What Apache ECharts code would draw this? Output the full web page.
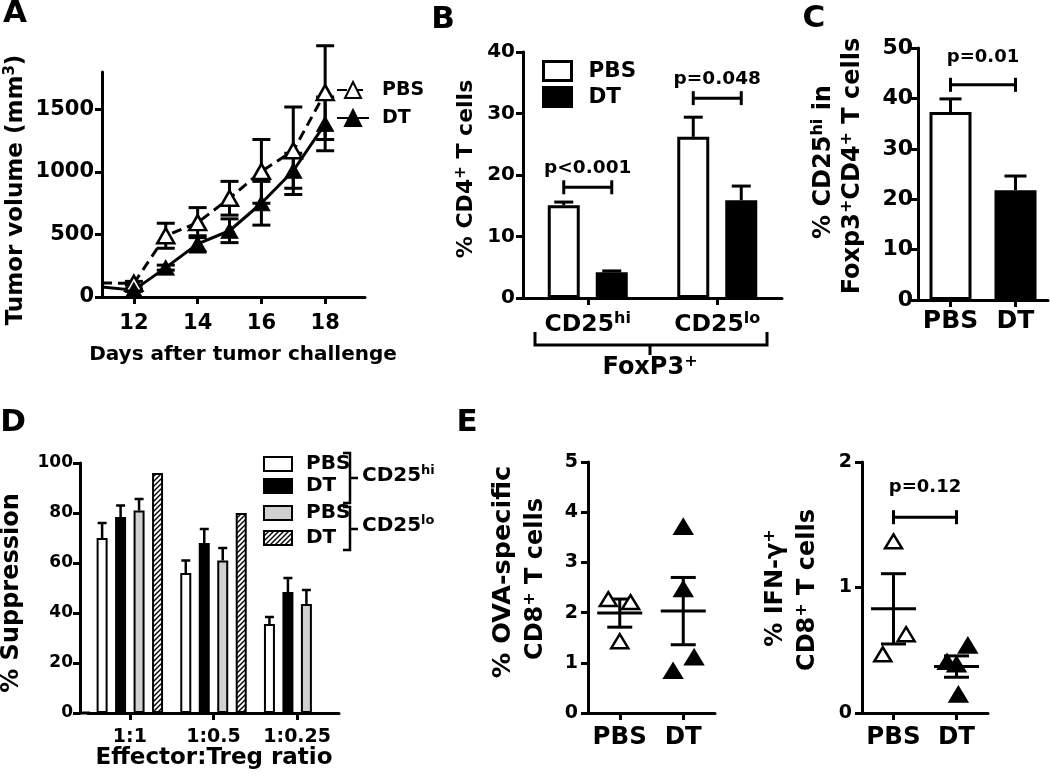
<!DOCTYPE html>
<html><head><meta charset="utf-8">
<script src="https://cdn.jsdelivr.net/npm/echarts@6/dist/echarts.min.js"></script>
<style>html,body{margin:0;padding:0;background:#fff}#c{width:1050px;height:781px}</style>
</head><body><div id="c"></div>
<script>
// ================= DATA =================
// Panel A – tumor growth
const A_DAYS      = [11, 12, 13, 14, 15, 16, 17, 18];
const A_PBS_MEAN  = [112, 110, 490, 595, 790, 1005, 1170, 1635];
const A_PBS_SEM   = [null, 15, 100, 120, 135, 255, 350, 375];
const A_DT_MEAN   = [80, 55, 235, 425, 530, 750, 1010, 1385];
const A_DT_SEM    = [null, 10, 20, 65, 95, 175, 140, 215];
const A_X_TICKS   = [12, 14, 16, 18];
const A_Y_TICKS   = [0, 500, 1000, 1500];

// Panel B – % CD4+ T cells
const B_CATS      = ['CD25hi', 'CD25lo'];
const B_PBS       = [15.1, 26.2];
const B_PBS_SEM   = [0.5, 3.2];
const B_DT        = [4.2, 15.9];
const B_DT_SEM    = [0.2, 2.3];
const B_P_LABELS  = ['p<0.001', 'p=0.048'];
const B_P_Y       = [18.0, 32.5];

// Panel C – % CD25hi in Foxp3+CD4+ T cells
const C_CATS      = ['PBS', 'DT'];
const C_VALS      = [37.3, 21.8];
const C_SEM       = [2.6, 2.8];
const C_P_LABEL   = ['p=0.01'];
const C_P_Y       = [42.7];

// Panel D – % suppression
const D_CATS        = ['1:1', '1:0.5', '1:0.25'];
const D_HI_PBS      = [70, 56, 35.6];
const D_HI_PBS_SEM  = [6, 5, 2.8];
const D_HI_DT       = [78.4, 68, 48.4];
const D_HI_DT_SEM   = [4.6, 5.6, 5.6];
const D_LO_PBS      = [81, 61, 43.6];
const D_LO_PBS_SEM  = [4.6, 5, 5.6];
const D_LO_DT       = [96, 80, null];

// Panel E – individual mice
const E_CATS        = ['PBS', 'DT'];
const E1_PBS        = [2.25, 2.19, 1.41];
const E1_PBS_JIT    = [-0.18, 0.17, 0];
const E1_DT         = [3.69, 2.45, 1.09, 0.82];
const E1_DT_JIT     = [0, 0, 0.17, -0.16];
const E1_MEAN       = [1.99, 2.03];
const E1_SEM        = [0.28, 0.67];
const E2_PBS        = [1.36, 0.62, 0.46];
const E2_PBS_JIT    = [0, 0.2, -0.17];
const E2_DT         = [0.53, 0.40, 0.38, 0.14];
const E2_DT_JIT     = [0.18, -0.15, 0, 0.03];
const E2_MEAN       = [0.83, 0.37];
const E2_SEM        = [0.28, 0.085];
const E2_P_LABEL    = ['p=0.12'];
const E2_P_Y        = [1.56];

// ================= STYLE =================
const FF = '"DejaVu Sans", sans-serif';
const BK = '#000';
const GRAY = '#d0d0d0';

const hatch = document.createElement('canvas');
hatch.width = 5; hatch.height = 5;
(function () {
  const c = hatch.getContext('2d');
  c.fillStyle = '#fff'; c.fillRect(0, 0, 5, 5);
  c.strokeStyle = '#000'; c.lineWidth = 1.4;
  c.beginPath();
  c.moveTo(0, 5); c.lineTo(5, 0);
  c.moveTo(-1, 1); c.lineTo(1, -1);
  c.moveTo(4, 6); c.lineTo(6, 4);
  c.stroke();
})();
const HATCH = { image: hatch, repeat: 'repeat' };

function axis(gi, fontSize, margin, extra) {
  const base = {
    gridIndex: gi,
    axisLine: { show: true, onZero: false, lineStyle: { color: BK, width: 3 } },
    axisTick: { show: true, length: 7, lineStyle: { color: BK, width: 3 } },
    axisLabel: { color: BK, fontFamily: FF, fontWeight: 'bold', fontSize: fontSize, margin: margin,
      hideOverlap: false, formatter: v => String(v) },
    splitLine: { show: false }
  };
  extra = extra || {};
  for (const k in extra) {
    if (base[k] && typeof base[k] === 'object' && !Array.isArray(extra[k])) base[k] = Object.assign({}, base[k], extra[k]);
    else base[k] = extra[k];
  }
  return base;
}
function catAxis(gi, fontSize, margin, data, labelExtra) {
  return axis(gi, fontSize, margin, {
    type: 'category', data: data,
    axisTick: { alignWithLabel: true, interval: 0 },
    axisLabel: Object.assign({ interval: 0 }, labelExtra || {})
  });
}

function rich(size, sup) {
  return {
    m: { fontSize: size, fontWeight: 'bold', fontFamily: FF, fill: BK, lineHeight: Math.round(size * 1.15) },
    s: { fontSize: sup, fontWeight: 'bold', fontFamily: FF, fill: BK, verticalAlign: 'top', lineHeight: sup }
  };
}
function gtext(x, y, text, size, rot, align) {
  return {
    type: 'text', x: x, y: y, rotation: rot ? Math.PI / 2 : 0, z: 10,
    style: { text: text, align: align || 'center', verticalAlign: 'middle',
      font: 'bold ' + size + 'px ' + FF, fill: BK, rich: rich(size, Math.round(size * 0.66)) }
  };
}
function axisRich(size, sup) {
  return {
    m: { fontSize: size, fontWeight: 'bold', fontFamily: FF, color: BK, lineHeight: Math.round(size * 1.15) },
    s: { fontSize: sup, fontWeight: 'bold', fontFamily: FF, color: BK, verticalAlign: 'top', lineHeight: sup }
  };
}
const ST = (w) => ({ stroke: BK, lineWidth: w || 3 });
function L(x1, y1, x2, y2, w) { return { type: 'line', shape: { x1, y1, x2, y2 }, style: ST(w) }; }

// ---- custom renderers ----
function errBoth(capHalf) {
  return function (p, api) {
    const x = api.value(0), m = api.value(1), s = api.value(2);
    const hi = api.coord([x, m + s]), lo = api.coord([x, m - s]);
    return { type: 'group', children: [
      L(hi[0], hi[1], lo[0], lo[1]),
      L(hi[0] - capHalf, hi[1], hi[0] + capHalf, hi[1]),
      L(lo[0] - capHalf, lo[1], lo[0] + capHalf, lo[1])
    ] };
  };
}
function barErr(barWidth, barGap, count, capHalf, lw) {
  return function (p, api) {
    const cat = api.value(0), v = api.value(1), s = api.value(2), slot = api.value(3);
    const lay = api.barLayout({ barWidth: barWidth, barGap: barGap, count: count });
    const off = lay[slot].offsetCenter;
    const top = api.coord([cat, v + s]), base = api.coord([cat, v]);
    const x = top[0] + off;
    return { type: 'group', children: [
      L(x, base[1], x, top[1], lw),
      L(x - capHalf, top[1], x + capHalf, top[1], lw)
    ] };
  };
}
function bracketGroup(x1, x2, y, label, gap, size) {
  return { type: 'group', children: [
    L(x1, y, x2, y),
    L(x1, y - 7, x1, y + 7),
    L(x2, y - 7, x2, y + 7),
    { type: 'text', style: { text: label, x: (x1 + x2) / 2, y: y - gap, align: 'center', verticalAlign: 'middle',
      font: 'bold ' + size + 'px ' + FF, fill: BK } }
  ] };
}
function bracketInCat(labels, barWidth, barGap, count, gap, size) {
  return function (p, api) {
    const cat = api.value(0), y = api.value(1);
    const lay = api.barLayout({ barWidth: barWidth, barGap: barGap, count: count });
    const c = api.coord([cat, y]);
    return bracketGroup(c[0] + lay[0].offsetCenter, c[0] + lay[1].offsetCenter, c[1], labels[p.dataIndex], gap, size);
  };
}
function bracketBetween(labels, gap, size) {
  return function (p, api) {
    const a = api.coord([api.value(0), api.value(2)]);
    const b = api.coord([api.value(1), api.value(2)]);
    return bracketGroup(a[0], b[0], a[1], labels[p.dataIndex], gap, size);
  };
}
function triPoint(p, api) {
  const c = api.coord([api.value(0), api.value(1)]);
  const bw = api.size([1, 0])[0];
  const x = c[0] + api.value(2) * bw, y = c[1];
  const filled = api.value(3) === 1;
  return { type: 'polygon', shape: { points: [[x, y - 8], [x - 8.5, y + 6], [x + 8.5, y + 6]] },
    style: { fill: filled ? BK : '#fff', stroke: BK, lineWidth: 2.5 } };
}
function meanSem(p, api) {
  const cat = api.value(0), m = api.value(1), s = api.value(2);
  const cm = api.coord([cat, m]), ch = api.coord([cat, m + s]), cl = api.coord([cat, m - s]);
  return { type: 'group', children: [
    L(cm[0] - 22.5, cm[1], cm[0] + 22.5, cm[1]),
    L(ch[0], ch[1], cl[0], cl[1]),
    L(ch[0] - 12.5, ch[1], ch[0] + 12.5, ch[1]),
    L(cl[0] - 12.5, cl[1], cl[0] + 12.5, cl[1])
  ] };
}

// ---- derived data for custom series ----
const aErrPBS = A_DAYS.map((d, i) => [d, A_PBS_MEAN[i], A_PBS_SEM[i]]).filter(r => r[2] != null);
const aErrDT  = A_DAYS.map((d, i) => [d, A_DT_MEAN[i], A_DT_SEM[i]]).filter(r => r[2] != null);
const bErr = [];
B_CATS.forEach((c, i) => { bErr.push([i, B_PBS[i], B_PBS_SEM[i], 0]); bErr.push([i, B_DT[i], B_DT_SEM[i], 1]); });
const cErr = C_CATS.map((c, i) => [i, C_VALS[i], C_SEM[i], 0]);
const dErr = [];
[[D_HI_PBS, D_HI_PBS_SEM], [D_HI_DT, D_HI_DT_SEM], [D_LO_PBS, D_LO_PBS_SEM]].forEach((pair, slot) => {
  pair[0].forEach((v, i) => { if (v != null && pair[1][i] != null) dErr.push([i, v, pair[1][i], slot]); });
});
const ptsFrom = (pbs, pj, dt, dj) => pbs.map((v, i) => [0, v, pj[i], 0]).concat(dt.map((v, i) => [1, v, dj[i], 1]));
const e1Pts = ptsFrom(E1_PBS, E1_PBS_JIT, E1_DT, E1_DT_JIT);
const e2Pts = ptsFrom(E2_PBS, E2_PBS_JIT, E2_DT, E2_DT_JIT);
const e1MS = E_CATS.map((c, i) => [i, E1_MEAN[i], E1_SEM[i]]);
const e2MS = E_CATS.map((c, i) => [i, E2_MEAN[i], E2_SEM[i]]);

const B_BW = 32, B_GAP = '50%';
const D_BW = 11, D_GAP = '68%';
const legendName = n => n.split('-')[1];
const legendText = (size, lh, padL) => ({ fontFamily: FF, fontWeight: 'bold', fontSize: size, color: BK, lineHeight: lh, padding: [0, 0, 0, padL] });

const option = {
  animation: false,
  backgroundColor: '#fff',
  grid: [
    { left: 102, top: 72, width: 263, height: 225 },
    { left: 523, top: 52, width: 259, height: 246 },
    { left: 918, top: 48, width: 130, height: 252 },
    { left: 88, top: 463, width: 251, height: 250 },
    { left: 588, top: 462, width: 127, height: 251 },
    { left: 862, top: 462, width: 126, height: 251 }
  ],
  xAxis: [
    axis(0, 21, 16, { type: 'value', min: 11, max: 19.25,
      axisTick: { customValues: A_X_TICKS }, axisLabel: { customValues: A_X_TICKS } }),
    catAxis(1, 23.5, 13, B_CATS, { formatter: v => '{m|' + v.slice(0, 4) + '}{s|' + v.slice(4) + '}', rich: axisRich(23.5, 16) }),
    catAxis(2, 25, 9, C_CATS),
    catAxis(3, 19, 15, D_CATS),
    catAxis(4, 24.5, 12, E_CATS),
    catAxis(5, 24.5, 12, E_CATS)
  ],
  yAxis: [
    axis(0, 21, 8, { type: 'value', min: 0, max: 1800,
      axisTick: { customValues: A_Y_TICKS }, axisLabel: { customValues: A_Y_TICKS } }),
    axis(1, 20, 8, { type: 'value', min: 0, max: 40, interval: 10 }),
    axis(2, 22, 5, { type: 'value', min: 0, max: 50, interval: 10 }),
    axis(3, 17, 7, { type: 'value', min: 0, max: 100, interval: 20, offset: 8 }),
    axis(4, 19, 10, { type: 'value', min: 0, max: 5, interval: 1 }),
    axis(5, 19, 10, { type: 'value', min: 0, max: 2, interval: 1 })
  ],
  legend: [
    { data: ['A-PBS', 'A-DT'], orient: 'vertical', left: 336, top: 79, padding: 0, itemWidth: 32, itemHeight: 20,
      itemGap: 6, selectedMode: false, formatter: legendName, textStyle: legendText(19, 22, 8) },
    { data: ['B-PBS', 'B-DT'], orient: 'vertical', left: 542, top: 59, padding: 0, itemWidth: 28, itemHeight: 19,
      itemGap: 2, selectedMode: false, formatter: legendName, textStyle: legendText(21.5, 24, 12), icon: 'rect',
      itemStyle: { borderWidth: 3 } },
    { data: ['D-PBS-hi', 'D-DT-hi'], orient: 'vertical', left: 263, top: 453, padding: 0, itemWidth: 28, itemHeight: 14,
      itemGap: 0, selectedMode: false, formatter: legendName, textStyle: legendText(20, 22, 9), icon: 'rect',
      itemStyle: { borderWidth: 2 } },
    { data: ['D-PBS-lo', 'D-DT-lo'], orient: 'vertical', left: 263, top: 502, padding: 0, itemWidth: 28, itemHeight: 14,
      itemGap: 3, selectedMode: false, formatter: legendName, textStyle: legendText(20, 22, 9), icon: 'rect',
      itemStyle: { borderWidth: 2 } }
  ],
  series: [
    // ---- A ----
    { type: 'custom', xAxisIndex: 0, yAxisIndex: 0, z: 1, clip: false, renderItem: errBoth(9), data: aErrPBS },
    { type: 'custom', xAxisIndex: 0, yAxisIndex: 0, z: 1, clip: false, renderItem: errBoth(9), data: aErrDT },
    { name: 'A-PBS', type: 'line', xAxisIndex: 0, yAxisIndex: 0, z: 3, symbol: 'triangle',
      data: A_DAYS.map((d, i) => (i === 0 ? { value: [d, A_PBS_MEAN[i]], symbol: 'none' } : [d, A_PBS_MEAN[i]])),
      symbolSize: [17, 15], lineStyle: { color: BK, width: 3, type: [10, 6] },
      itemStyle: { color: '#fff', borderColor: BK, borderWidth: 2.5 } },
    { name: 'A-DT', type: 'line', xAxisIndex: 0, yAxisIndex: 0, z: 3, symbol: 'triangle',
      data: A_DAYS.map((d, i) => (i === 0 ? { value: [d, A_DT_MEAN[i]], symbol: 'none' } : [d, A_DT_MEAN[i]])),
      symbolSize: [17, 15], lineStyle: { color: BK, width: 3 },
      itemStyle: { color: BK, borderColor: BK, borderWidth: 1 } },
    // ---- B ----
    { name: 'B-PBS', type: 'bar', xAxisIndex: 1, yAxisIndex: 1, data: B_PBS, barWidth: B_BW, barGap: B_GAP,
      itemStyle: { color: '#fff', borderColor: BK, borderWidth: 3 } },
    { name: 'B-DT', type: 'bar', xAxisIndex: 1, yAxisIndex: 1, data: B_DT, barWidth: B_BW, barGap: B_GAP,
      itemStyle: { color: BK, borderColor: BK, borderWidth: 3 } },
    { type: 'custom', xAxisIndex: 1, yAxisIndex: 1, z: 3, renderItem: barErr(B_BW, B_GAP, 2, 9.5, 3), data: bErr },
    { type: 'custom', xAxisIndex: 1, yAxisIndex: 1, z: 3, clip: false,
      renderItem: bracketInCat(B_P_LABELS, B_BW, B_GAP, 2, 19, 18.5), data: B_CATS.map((c, i) => [i, B_P_Y[i]]) },
    // ---- C ----
    { name: 'C', type: 'bar', xAxisIndex: 2, yAxisIndex: 2, barWidth: 42,
      data: C_VALS.map((v, i) => ({ value: v, itemStyle: { color: i === 0 ? '#fff' : BK } })),
      itemStyle: { borderColor: BK, borderWidth: 3 } },
    { type: 'custom', xAxisIndex: 2, yAxisIndex: 2, z: 3, renderItem: barErr(42, '0%', 1, 11, 3), data: cErr },
    { type: 'custom', xAxisIndex: 2, yAxisIndex: 2, z: 3, clip: false,
      renderItem: bracketBetween(C_P_LABEL, 27, 18), data: C_P_Y.map(y => [0, 1, y]) },
    // ---- D ----
    { name: 'D-PBS-hi', type: 'bar', xAxisIndex: 3, yAxisIndex: 3, data: D_HI_PBS, barWidth: D_BW, barGap: D_GAP,
      itemStyle: { color: '#fff', borderColor: BK, borderWidth: 2 } },
    { name: 'D-DT-hi', type: 'bar', xAxisIndex: 3, yAxisIndex: 3, data: D_HI_DT, barWidth: D_BW, barGap: D_GAP,
      itemStyle: { color: BK, borderColor: BK, borderWidth: 2 } },
    { name: 'D-PBS-lo', type: 'bar', xAxisIndex: 3, yAxisIndex: 3, data: D_LO_PBS, barWidth: D_BW, barGap: D_GAP,
      itemStyle: { color: GRAY, borderColor: BK, borderWidth: 2 } },
    { name: 'D-DT-lo', type: 'bar', xAxisIndex: 3, yAxisIndex: 3, data: D_LO_DT, barWidth: D_BW, barGap: D_GAP,
      itemStyle: { color: HATCH, borderColor: BK, borderWidth: 2 } },
    { type: 'custom', xAxisIndex: 3, yAxisIndex: 3, z: 3, renderItem: barErr(D_BW, D_GAP, 4, 4.5, 2.5), data: dErr },
    // ---- E1 ----
    { type: 'custom', xAxisIndex: 4, yAxisIndex: 4, z: 2, renderItem: meanSem, data: e1MS },
    { type: 'custom', xAxisIndex: 4, yAxisIndex: 4, z: 3, renderItem: triPoint, data: e1Pts },
    // ---- E2 ----
    { type: 'custom', xAxisIndex: 5, yAxisIndex: 5, z: 2, renderItem: meanSem, data: e2MS },
    { type: 'custom', xAxisIndex: 5, yAxisIndex: 5, z: 3, renderItem: triPoint, data: e2Pts },
    { type: 'custom', xAxisIndex: 5, yAxisIndex: 5, z: 3, clip: false,
      renderItem: bracketBetween(E2_P_LABEL, 30, 18), data: E2_P_Y.map(y => [0, 1, y]) }
  ],
  graphic: [
    gtext(15, 14, 'A', 31), gtext(443, 20, 'B', 31), gtext(814, 19, 'C', 31),
    gtext(13, 423, 'D', 31), gtext(467, 423, 'E', 31),
    gtext(16, 190, '{m|Tumor volume (mm}{s|3}{m|)}', 23, true),
    gtext(243, 355, 'Days after tumor challenge', 20),
    gtext(466, 169, '{m|% CD4}{s|+}{m| T cells}', 22, true),
    gtext(650, 368, '{m|FoxP3}{s|+}', 24),
    { type: 'polyline', z: 10, shape: { points: [[535, 332], [535, 345], [767, 345], [767, 332]] }, style: { stroke: BK, lineWidth: 3, fill: null } },
    { type: 'line', z: 10, shape: { x1: 650, y1: 345, x2: 650, y2: 355 }, style: ST(3) },
    gtext(824, 162, '{m|% CD25}{s|hi}{m| in}', 24, true),
    gtext(853, 166, '{m|Foxp3}{s|+}{m|CD4}{s|+}{m| T cells}', 24, true),
    gtext(12, 593, '% Suppression', 24, true),
    gtext(214, 758, 'Effector:Treg ratio', 23),
    { type: 'line', z: 10, shape: { x1: 80, y1: 713, x2: 90, y2: 713 }, style: ST(3) },
    { type: 'polyline', z: 10, shape: { points: [[343, 453], [350, 453], [350, 503], [343, 503]] }, style: { stroke: BK, lineWidth: 2.5, fill: null } },
    { type: 'line', z: 10, shape: { x1: 350, y1: 478, x2: 358, y2: 478 }, style: ST(2.5) },
    gtext(362, 476, '{m|CD25}{s|hi}', 20, false, 'left'),
    { type: 'polyline', z: 10, shape: { points: [[343, 507], [350, 507], [350, 550], [343, 550]] }, style: { stroke: BK, lineWidth: 2.5, fill: null } },
    { type: 'line', z: 10, shape: { x1: 350, y1: 529, x2: 358, y2: 529 }, style: ST(2.5) },
    gtext(362, 526, '{m|CD25}{s|lo}', 20, false, 'left'),
    gtext(503, 572, '% OVA-specific', 25.5, true),
    gtext(536, 579, '{m|CD8}{s|+}{m| T cells}', 24, true),
    gtext(776, 588, '{m|% IFN-γ}{s|+}', 24, true),
    gtext(808, 590, '{m|CD8}{s|+}{m| T cells}', 24, true)
  ]
};

const chart = echarts.init(document.getElementById('c'), null, { renderer: 'canvas' });
chart.setOption(option);
</script>
</body></html>
